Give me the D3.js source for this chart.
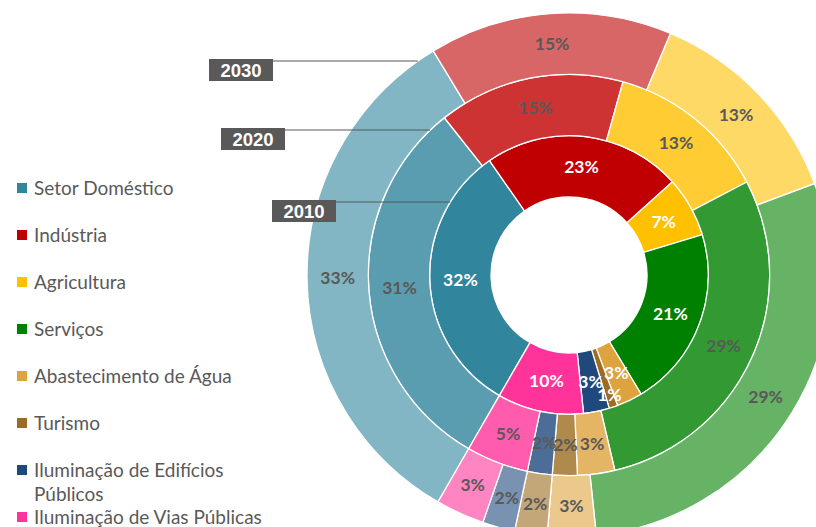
<!DOCTYPE html>
<html>
<head>
<meta charset="utf-8">
<title>Consumo por setor</title>
<script src="https://d3js.org/d3.v7.min.js"></script>
<style>
  body { margin: 0; background: white; }
  svg { display: block; }
</style>
</head>
<body>
<svg width="816" height="527"></svg>
<script>
const categories = ["Setor Doméstico", "Indústria", "Agricultura", "Serviços",
  "Abastecimento de Água", "Turismo", "Iluminação de Edifícios Públicos", "Iluminação de Vias Públicas"];
const years = ["2010", "2020", "2030"];
const values2010 = [32, 23, 7, 21, 3, 1, 3, 10];
const values2020 = [31, 15, 13, 29, 3, 2, 2, 5];
const values2030 = [33, 15, 13, 29, 3, 2, 2, 3];
const series = [values2010, values2020, values2030];

const colors = ["#31859C", "#C00000", "#FFC000", "#008000", "#DDA33E", "#9C6D1F", "#1F497D", "#FF3399"];
const ringOpacity = [1, 0.8, 0.6];

const width = 816, height = 527;
const cx = 569, cy = 275;
const svg = d3.select("svg");

// rings: hole 78, each ring ~61px wide
var rs = d3.scaleLinear().domain([0, 3]).range([78, 262]);
var color = d3.scaleOrdinal().domain(categories).range(colors);

var pie = d3.pie().sort(null)
  .startAngle(210 * Math.PI / 180)
  .endAngle(570 * Math.PI / 180);

var g = svg.append("g").attr("transform", "translate(" + cx + "," + cy + ")");

series.forEach(function(vals, ri) {
  var arcs = pie(vals);
  var arc = d3.arc().innerRadius(rs(ri)).outerRadius(rs(ri + 1));
  var ring = g.append("g");
  ring.selectAll("path").data(arcs).enter().append("path")
    .attr("d", arc)
    .attr("fill", function(d, i) {
      var c = d3.color(color(categories[i]));
      var a = ringOpacity[ri];
      return d3.rgb(c.r * a + 255 * (1 - a), c.g * a + 255 * (1 - a), c.b * a + 255 * (1 - a));
    })
    .attr("stroke", "white")
    .attr("stroke-width", 1.3);

  ring.selectAll("text").data(arcs).enter().append("text")
    .attr("transform", function(d) {
      var p = arc.centroid(d);
      // excel pushes the tiny 1% label outward to avoid overlap
      if (d.value < 2) {
        var a = (d.startAngle + d.endAngle) / 2, r = (rs(ri) + rs(ri + 1)) / 2 + 18;
        p = [r * Math.sin(a), -r * Math.cos(a)];
      }
      return "translate(" + p[0] + "," + p[1] + ")";
    })
    .attr("text-anchor", "middle")
    .attr("dy", "0.35em")
    .style("font-family", "Lato, 'Open Sans', sans-serif")
    .style("font-weight", "bold")
    .style("font-size", "17.5px")
    .attr("fill", ri == 0 ? "white" : "#595959")
    .text(function(d) { return d.value + "%"; });
});

// year callouts
var callouts = [
  {year: "2030", x: 209, y: 59},
  {year: "2020", x: 221, y: 128},
  {year: "2010", x: 272, y: 200}
];
callouts.forEach(function(c) {
  var ri = years.indexOf(c.year);
  var ly = c.y + 2;
  var r = rs(ri + 1);
  var lx = cx - Math.sqrt(r * r - (ly - cy) * (ly - cy));
  svg.append("line")
    .attr("x1", c.x + 64).attr("y1", ly)
    .attr("x2", lx).attr("y2", ly)
    .attr("stroke", "#595959")
    .attr("stroke-width", 1.2);
  svg.append("rect")
    .attr("x", c.x).attr("y", c.y)
    .attr("width", 64).attr("height", 22)
    .attr("fill", "#595959");
  svg.append("text")
    .attr("x", c.x + 32).attr("y", c.y + 11)
    .attr("dy", "0.36em")
    .attr("text-anchor", "middle")
    .style("font-family", "'Liberation Sans', Arial, sans-serif")
    .style("font-weight", "bold")
    .style("font-size", "18.5px")
    .attr("fill", "white")
    .text(c.year);
});

// legend
var legend = svg.append("g");
var ly = 188;
categories.forEach(function(name, i) {
  var item = legend.append("g");
  item.append("rect")
    .attr("x", 17).attr("y", ly - 5)
    .attr("width", 10).attr("height", 10)
    .attr("fill", color(name));
  var t = item.append("text")
    .attr("x", 34).attr("y", ly)
    .attr("dy", "0.35em")
    .style("font-family", "Lato, 'Open Sans', sans-serif")
    .style("font-size", "19px")
    .attr("fill", "#595959");
  // simple word wrap
  var words = name.split(" "), line = [], lines = 0;
  var tspan = t.append("tspan").attr("x", 34);
  words.forEach(function(w) {
    line.push(w);
    tspan.text(line.join(" "));
    if (tspan.node().getComputedTextLength() > 245 && line.length > 1) {
      line.pop();
      tspan.text(line.join(" "));
      line = [w];
      lines++;
      tspan = t.append("tspan").attr("x", 34).attr("dy", 24).text(w);
    }
  });
  ly += 47;
});
</script>
</body>
</html>
